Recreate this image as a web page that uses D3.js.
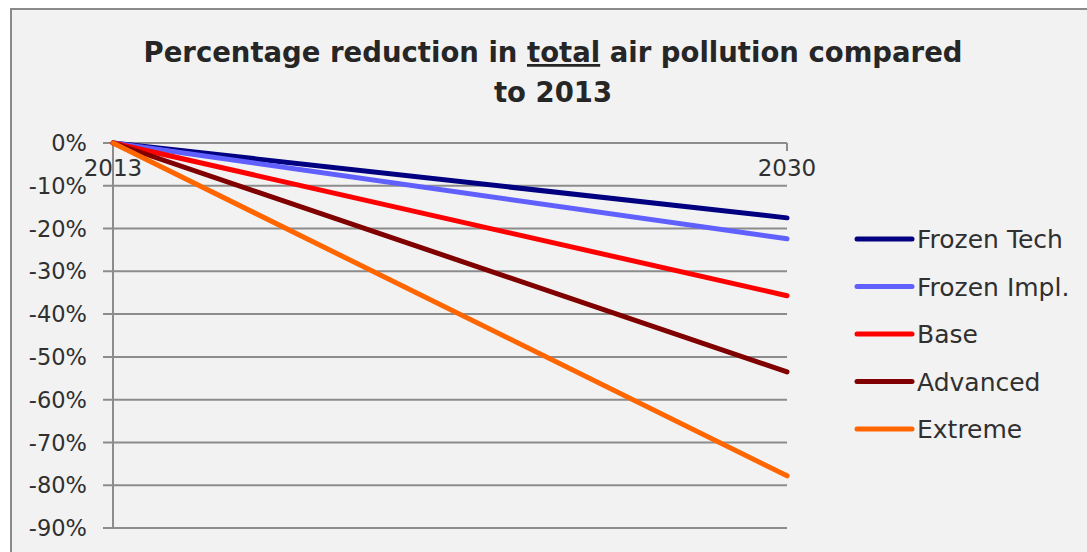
<!DOCTYPE html>
<html>
<head>
<meta charset="utf-8">
<script src="https://cdn.jsdelivr.net/npm/d3@7"></script>
<style>
  body { margin: 0; background: #fff; }
  svg { display: block; font-family: "Century Gothic", "DejaVu Sans", sans-serif; }
</style>
</head>
<body>
<svg id="chart" width="1087" height="552"></svg>
<script>
// data
const years = ['2013', '2030'];
const seriesNames = ['Frozen Tech', 'Frozen Impl.', 'Base', 'Advanced', 'Extreme'];
const frozenTech = [0, -0.175];
const frozenImpl = [0, -0.224];
const base = [0, -0.357];
const advanced = [0, -0.535];
const extreme = [0, -0.778];
const yTicks = [0, -0.1, -0.2, -0.3, -0.4, -0.5, -0.6, -0.7, -0.8, -0.9];
const colors = ['#000080', '#6060ff', '#ff0000', '#800000', '#ff6600'];

const seriesData = [frozenTech, frozenImpl, base, advanced, extreme];

const svg = d3.select('#chart');

// chart frame
svg.append('rect').attr('x', 11).attr('y', 9).attr('width', 1090).attr('height', 560)
  .attr('fill', '#f2f2f2').attr('stroke', '#8a8a8a').attr('stroke-width', 2);

// title
const title = svg.append('text').attr('text-anchor', 'middle').attr('font-weight', 'bold')
  .attr('font-size', 27.5).attr('fill', '#262626');
title.append('tspan').attr('x', 553).attr('y', 62).text('Percentage reduction in ')
  .append('tspan').attr('text-decoration', 'underline').text('total');
title.select('tspan').append('tspan').text(' air pollution compared');
title.append('tspan').attr('x', 553).attr('y', 102).text('to 2013');

const x = d3.scalePoint().domain(years).range([113, 787]);
const y = d3.scaleLinear().domain([-0.9, 0]).range([528, 143]);

// gridlines
svg.append('g').selectAll('line').data(yTicks).join('line')
  .attr('x1', 103).attr('x2', 787)
  .attr('y1', d => y(d)).attr('y2', d => y(d))
  .attr('stroke', '#8c8c8c').attr('stroke-width', 2);

// axes lines
svg.append('line').attr('x1', 113).attr('x2', 113).attr('y1', y(0)).attr('y2', y(-0.9))
  .attr('stroke', '#8c8c8c').attr('stroke-width', 2);
svg.append('g').selectAll('line').data(years).join('line')
  .attr('x1', d => x(d)).attr('x2', d => x(d)).attr('y1', y(0)).attr('y2', y(0) + 8)
  .attr('stroke', '#8c8c8c').attr('stroke-width', 2);

// y labels
svg.append('g').selectAll('text').data(yTicks).join('text')
  .attr('x', 87).attr('y', d => y(d)).attr('dy', '0.36em')
  .attr('text-anchor', 'end').attr('font-size', 22.5).attr('fill', '#303030')
  .text(d => d3.format('.0%')(d).replace('−', '-'));

// x labels
svg.append('g').selectAll('text').data(years).join('text')
  .attr('x', d => x(d)).attr('y', y(0) + 33)
  .attr('text-anchor', 'middle').attr('font-size', 23).attr('fill', '#303030')
  .text(d => d);

// lines
const line = d3.line().x((d, i) => x(years[i])).y(d => y(d));
svg.append('g').selectAll('path').data(seriesData).join('path')
  .attr('d', d => line(d))
  .attr('fill', 'none')
  .attr('stroke', (d, i) => colors[i])
  .attr('stroke-width', 5)
  .attr('stroke-linecap', 'round');

// legend
const lg = svg.append('g').selectAll('g').data(seriesNames).join('g')
  .attr('transform', (d, i) => `translate(857, ${239 + i * 47.5})`);
lg.append('line').attr('x1', 0).attr('x2', 55)
  .attr('stroke', (d, i) => colors[i]).attr('stroke-width', 5).attr('stroke-linecap', 'round');
lg.append('text').attr('x', 60).attr('dy', '0.36em').attr('font-size', 25).attr('fill', '#303030')
  .text(d => d);
</script>
</body>
</html>
